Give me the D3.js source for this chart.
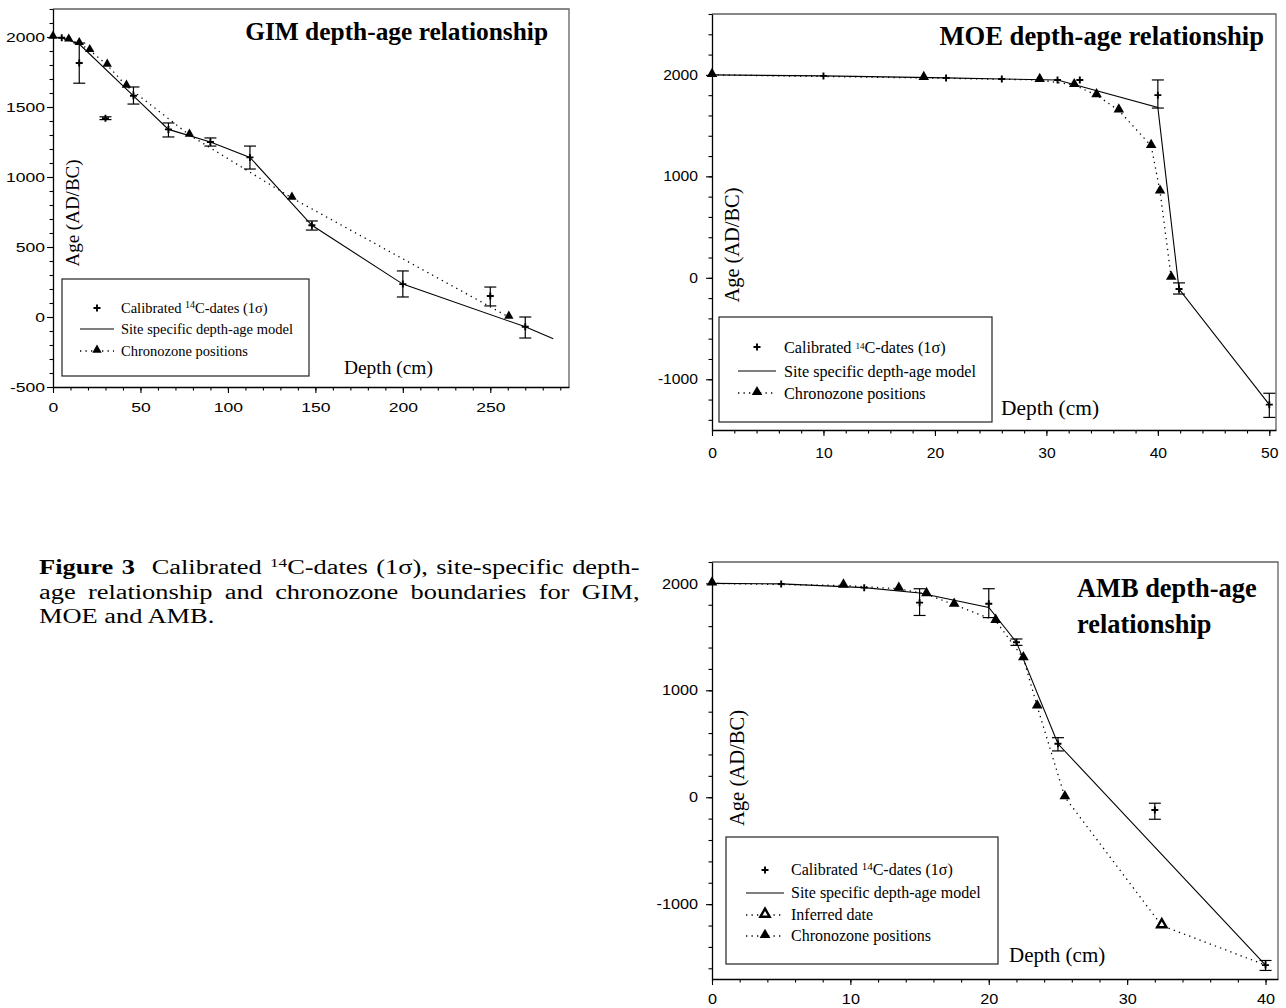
<!DOCTYPE html>
<html><head><meta charset="utf-8">
<script src="https://cdn.jsdelivr.net/npm/d3@7"></script>
<style>
body{margin:0;background:#fff;position:relative;width:1286px;height:1008px;overflow:hidden;}
svg{display:block;position:absolute;left:0;top:0;}
.cap{position:absolute;left:39px;width:455px;font-family:"Liberation Serif","Times New Roman",serif;font-size:20px;line-height:24.5px;color:#000;transform:scaleX(1.32);transform-origin:0 0;}
.cap div{text-align:justify;text-align-last:justify;white-space:nowrap;}
.cap div.last{text-align-last:left;}
</style></head><body>
<script>
// ---------------- DATA ----------------
// GIM
const gimDateDepth=[5,15,30,46,66,90,112.6,148,200,250,270];
const gimDateAge=[1995,1814,1420,1580,1340,1250,1140,655,235,150,-70];
const gimDateLow=[1995,1670,1410,1521,1286,1221,1057,621,143,79,-150];
const gimDateHigh=[1995,1957,1430,1643,1386,1279,1221,686,329,214,0];
const gimModelDepth=[0,5,15,46,66,90,112.6,148,200,270,286];
const gimModelAge=[2000,1995,1950,1580,1340,1250,1140,655,235,-70,-155];
const gimZoneDepth=[0,9,15,21,31,42,78,136.6,260.6];
const gimZoneAge=[2000,1980,1955,1905,1800,1650,1300,850,0];
const gimXTicks=[0,50,100,150,200,250];
const gimYTicks=[-500,0,500,1000,1500,2000];
// MOE
const moeDateDepth=[10,21,26,31,33,40,41.9,50];
const moeDateAge=[1990,1970,1960,1950,1950,1800,-110,-1250];
const moeDateLow=[1990,1970,1960,1950,1950,1673,-160,-1376];
const moeDateHigh=[1990,1970,1960,1950,1950,1950,-50,-1138];
const moeModelDepth=[0,10,21,26,31,40,41.9,50];
const moeModelAge=[2000,1990,1970,1960,1950,1680,-110,-1250];
const moeZoneDepth=[0,19,29.4,32.5,34.5,36.5,39.4,40.2,41.2];
const moeZoneAge=[2000,1970,1950,1900,1800,1650,1300,850,0];
const moeXTicks=[0,10,20,30,40,50];
const moeYTicks=[-1000,0,1000,2000];
// AMB
const ambDateDepth=[5,11,15,20,22,25,32,40];
const ambDateAge=[1995,1960,1820,1810,1450,500,-120,-1570];
const ambDateLow=[1995,1960,1700,1680,1420,433,-206,-1620];
const ambDateHigh=[1995,1960,1950,1950,1480,557,-56,-1527];
const ambModelDepth=[0,5,11,15,20,22,25,40];
const ambModelAge=[2000,1995,1960,1910,1775,1450,500,-1570];
const ambZoneDepth=[0,9.5,13.5,15.5,17.5,20.5,22.5,23.5,25.5];
const ambZoneAge=[2000,1980,1950,1900,1800,1650,1300,850,0];
const ambInferredDepth=[32.5];
const ambInferredAge=[-1200];
const ambXTicks=[0,10,20,30,40];
const ambYTicks=[-1000,0,1000,2000];
// texts
const legendCal=["Calibrated ","14","C-dates (1σ)"];
const legendModel="Site specific depth-age model";
const legendInferred="Inferred date";
const legendZone="Chronozone positions";
const yLabel="Age (AD/BC)";
const xLabel="Depth (cm)";
const captionLines=[
  ["Figure 3","  Calibrated ","14","C-dates (1σ), site-specific depth-"],
  ["age relationship and chronozone boundaries for GIM,"],
  ["MOE and AMB."]
];

// ---------------- DRAW ----------------
const SERIF='"Liberation Serif","Times New Roman",serif';
const SANS='"Liberation Sans",Arial,sans-serif';
const svg=d3.select("body").append("svg").attr("width",1286).attr("height",1008);

function drawPanel(p){
  const g=svg.append("g");
  const x=d3.scaleLinear().domain(p.xDomain).range([p.left,p.right]);
  const y=d3.scaleLinear().domain(p.yDomain).range([p.bottom,p.top]);
  g.append("path").attr("d",`M${p.left},${p.top}H${p.right}V${p.bottom}`)
    .attr("fill","none").attr("stroke","#606060").attr("stroke-width",1.3);
  const ym=g.append("g").attr("transform",`translate(${p.left},0)`)
    .call(d3.axisLeft(y).tickValues(p.yMinor).tickSize(3.5).tickFormat(""));
  ym.select(".domain").remove();
  const xm=g.append("g").attr("transform",`translate(0,${p.bottom})`)
    .call(d3.axisBottom(x).tickValues(p.xMinor).tickSize(3.5).tickFormat(""));
  xm.select(".domain").remove();
  const ya=g.append("g").attr("transform",`translate(${p.left},0)`)
    .call(d3.axisLeft(y).tickValues(p.yTicks).tickSize(6).tickSizeOuter(0).tickPadding(p.yPad).tickFormat(d=>String(d)));
  const xa=g.append("g").attr("transform",`translate(0,${p.bottom})`)
    .call(d3.axisBottom(x).tickValues(p.xTicks).tickSize(6).tickSizeOuter(0).tickPadding(p.xPad).tickFormat(d=>String(d)));
  [ya,xa,ym,xm].forEach(a=>{a.selectAll("line").attr("stroke","#000").attr("stroke-width",1.1);
    a.select(".domain").attr("stroke","#000").attr("stroke-width",1.3);
    a.attr("font-family",SANS).attr("font-size",p.tickFont);});
  ya.selectAll("text").attr("x",-(6+p.yPad)/p.sx).attr("transform",`scale(${p.sx},1)`).attr("fill","#000");
  xa.selectAll("text").attr("transform",`scale(${p.sx},1)`).attr("fill","#000");

  const line=d3.line().x(d=>x(d[0])).y(d=>y(d[1]));
  g.append("path").datum(p.dotted).attr("d",line).attr("fill","none")
    .attr("stroke","#000").attr("stroke-width",1.3).attr("stroke-dasharray","1.3,4.2");
  g.append("path").datum(d3.zip(p.modelDepth,p.modelAge)).attr("d",line).attr("fill","none")
    .attr("stroke","#000").attr("stroke-width",1.1);
  const dates=p.dateDepth.map((d,i)=>({d,a:p.dateAge[i],lo:p.dateLow[i],hi:p.dateHigh[i]}));
  const eb=g.append("g").attr("stroke","#000").attr("stroke-width",1.2);
  dates.filter(o=>o.hi-o.lo>0).forEach(o=>{
    const cx=x(o.d);
    eb.append("line").attr("x1",cx).attr("x2",cx).attr("y1",y(o.lo)).attr("y2",y(o.hi));
    [o.lo,o.hi].forEach(v=>eb.append("line").attr("x1",cx-6).attr("x2",cx+6).attr("y1",y(v)).attr("y2",y(v)));
  });
  const tri=d3.symbol(d3.symbolTriangle,p.triSize);
  g.selectAll(null).data(d3.zip(p.zoneDepth,p.zoneAge)).join("path")
    .attr("d",tri).attr("transform",d=>`translate(${x(d[0])},${y(d[1])-1})`).attr("fill","#000");
  if(p.inferredDepth){
    g.selectAll(null).data(d3.zip(p.inferredDepth,p.inferredAge)).join("path")
      .attr("d",d3.symbol(d3.symbolTriangle,p.triSize*0.75)).attr("transform",d=>`translate(${x(d[0])},${y(d[1])-1})`)
      .attr("fill","#fff").attr("stroke","#000").attr("stroke-width",2.4);
  }
  g.selectAll(null).data(dates).join("path")
    .attr("d","M-3.5,0H3.5M0,-3.5V3.5").attr("transform",o=>`translate(${x(o.d)},${y(o.a)})`)
    .attr("stroke","#000").attr("stroke-width",1.9).attr("fill","none");

  const t=g.append("text").attr("font-family",SERIF).attr("font-weight","bold")
    .attr("font-size",p.titleFont).attr("text-anchor",p.titleAnchor).attr("fill","#000");
  p.title.forEach((s,i)=>t.append("tspan").attr("x",p.titleX).attr("y",p.titleY[i]).text(s));
  g.append("text").attr("transform",`translate(${p.yLabX},${p.yLabY}) rotate(-90)`)
    .attr("text-anchor","middle").attr("dominant-baseline","central")
    .attr("font-family",SERIF).attr("font-size",p.yLabFont).attr("fill","#000").text(yLabel);
  g.append("text").attr("x",p.xLabX).attr("y",p.xLabY).attr("font-family",SERIF)
    .attr("font-size",p.xLabFont).attr("fill","#000").text(xLabel);

  const L=p.legend;
  const lg=g.append("g");
  lg.append("rect").attr("x",L.x).attr("y",L.y).attr("width",L.w).attr("height",L.h)
    .attr("fill","#fff").attr("stroke","#222").attr("stroke-width",1.2);
  L.rows.forEach((r,i)=>{
    const cy=L.rowY[i];
    if(r==="cal"){
      lg.append("path").attr("d","M-3.5,0H3.5M0,-3.5V3.5").attr("transform",`translate(${L.mx},${cy})`)
        .attr("stroke","#000").attr("stroke-width",1.9);
    } else if(r==="model"){
      lg.append("line").attr("x1",L.mx-L.half).attr("x2",L.mx+L.half).attr("y1",cy).attr("y2",cy)
        .attr("stroke","#000").attr("stroke-width",1.1);
    } else {
      lg.append("line").attr("x1",L.mx-L.half).attr("x2",L.mx+L.half).attr("y1",cy).attr("y2",cy)
        .attr("stroke","#000").attr("stroke-width",1.3).attr("stroke-dasharray","1.3,4.2");
      const s=lg.append("path").attr("transform",`translate(${L.mx},${cy-1})`);
      if(r==="inf") s.attr("d",d3.symbol(d3.symbolTriangle,p.triSize*0.75)).attr("fill","#fff").attr("stroke","#000").attr("stroke-width",2.4);
      else s.attr("d",tri).attr("fill","#000");
    }
    const tx=lg.append("text").attr("x",L.tx).attr("y",cy).attr("dy","0.34em")
      .attr("font-family",SERIF).attr("font-size",L.font).attr("fill","#000");
    if(r==="cal"){
      tx.append("tspan").text(legendCal[0]);
      tx.append("tspan").attr("font-size",L.supFont).attr("dy",-L.supShift).text(legendCal[1]);
      tx.append("tspan").attr("dy",L.supShift).text(legendCal[2]);
    } else tx.text(r==="model"?legendModel:(r==="inf"?legendInferred:legendZone));
  });
}

drawPanel({
  left:53,right:569,top:9,bottom:387,xDomain:[0,295],yDomain:[-500,2200],
  xTicks:gimXTicks,yTicks:gimYTicks,xMinor:d3.range(0,295,10),yMinor:d3.range(-500,2201,100),
  yPad:2,xPad:10,sx:1.35,tickFont:13,triSize:38,
  dateDepth:gimDateDepth,dateAge:gimDateAge,dateLow:gimDateLow,dateHigh:gimDateHigh,
  modelDepth:gimModelDepth,modelAge:gimModelAge,zoneDepth:gimZoneDepth,zoneAge:gimZoneAge,
  dotted:d3.zip(gimZoneDepth,gimZoneAge),
  title:["GIM depth-age relationship"],titleX:548,titleY:[40],titleAnchor:"end",titleFont:25.4,
  yLabX:72,yLabY:213,yLabFont:19,xLabX:344,xLabY:374,xLabFont:19.4,
  legend:{x:62,y:279,w:247,h:97,rows:["cal","model","zone"],rowY:[308,329,351],mx:97,half:17,tx:121,font:14.5,supFont:10,supShift:5}
});
drawPanel({
  left:712,right:1276,top:14,bottom:430,xDomain:[0,50.6],yDomain:[-1500,2600],
  xTicks:moeXTicks,yTicks:moeYTicks,xMinor:d3.range(0,50.6,2),yMinor:d3.range(-1400,2601,200),
  yPad:8,xPad:12,sx:1.12,tickFont:14,triSize:48,
  dateDepth:moeDateDepth,dateAge:moeDateAge,dateLow:moeDateLow,dateHigh:moeDateHigh,
  modelDepth:moeModelDepth,modelAge:moeModelAge,zoneDepth:moeZoneDepth,zoneAge:moeZoneAge,
  dotted:d3.zip(moeZoneDepth,moeZoneAge),
  title:["MOE depth-age relationship"],titleX:1264,titleY:[45],titleAnchor:"end",titleFont:26.6,
  yLabX:732,yLabY:245,yLabFont:20.4,xLabX:1001,xLabY:415,xLabFont:21.4,
  legend:{x:719,y:317,w:273,h:105,rows:["cal","model","zone"],rowY:[347,371,393],mx:757,half:19,tx:784,font:16.2,supFont:9,supShift:4}
});
drawPanel({
  left:712,right:1278,top:562,bottom:979,xDomain:[0,40.9],yDomain:[-1700,2200],
  xTicks:ambXTicks,yTicks:ambYTicks,xMinor:d3.range(0,40.9,2),yMinor:d3.range(-1600,2201,200),
  yPad:8,xPad:9,sx:1.12,tickFont:14.5,triSize:50,
  dateDepth:ambDateDepth,dateAge:ambDateAge,dateLow:ambDateLow,dateHigh:ambDateHigh,
  modelDepth:ambModelDepth,modelAge:ambModelAge,zoneDepth:ambZoneDepth,zoneAge:ambZoneAge,
  inferredDepth:ambInferredDepth,inferredAge:ambInferredAge,
  dotted:d3.zip(ambZoneDepth,ambZoneAge).concat(d3.zip(ambInferredDepth,ambInferredAge),[[ambDateDepth[ambDateDepth.length-1],ambDateAge[ambDateAge.length-1]]]),
  title:["AMB depth-age","relationship"],titleX:1077,titleY:[597,633],titleAnchor:"start",titleFont:26.4,
  yLabX:737,yLabY:768,yLabFont:20.6,xLabX:1009,xLabY:962,xLabFont:21,
  legend:{x:726,y:837,w:272,h:127,rows:["cal","model","inf","zone"],rowY:[870,893,915,936],mx:765,half:19,tx:791,font:16,supFont:11,supShift:5}
});

const cap=d3.select("body").append("div").attr("class","cap").style("top","555px");
captionLines.forEach((ln,i)=>{
  const d=cap.append("div").attr("class",i===captionLines.length-1?"last":null);
  if(i===0){
    d.append("b").text(ln[0]);
    d.append("span").style("white-space","pre").text(ln[1]);
    d.append("sup").style("font-size","0.65em").style("vertical-align","0.55em").style("line-height","0").text(ln[2]);
    d.append("span").text(ln[3]);
  } else d.text(ln[0]);
});
</script>
</body></html>
